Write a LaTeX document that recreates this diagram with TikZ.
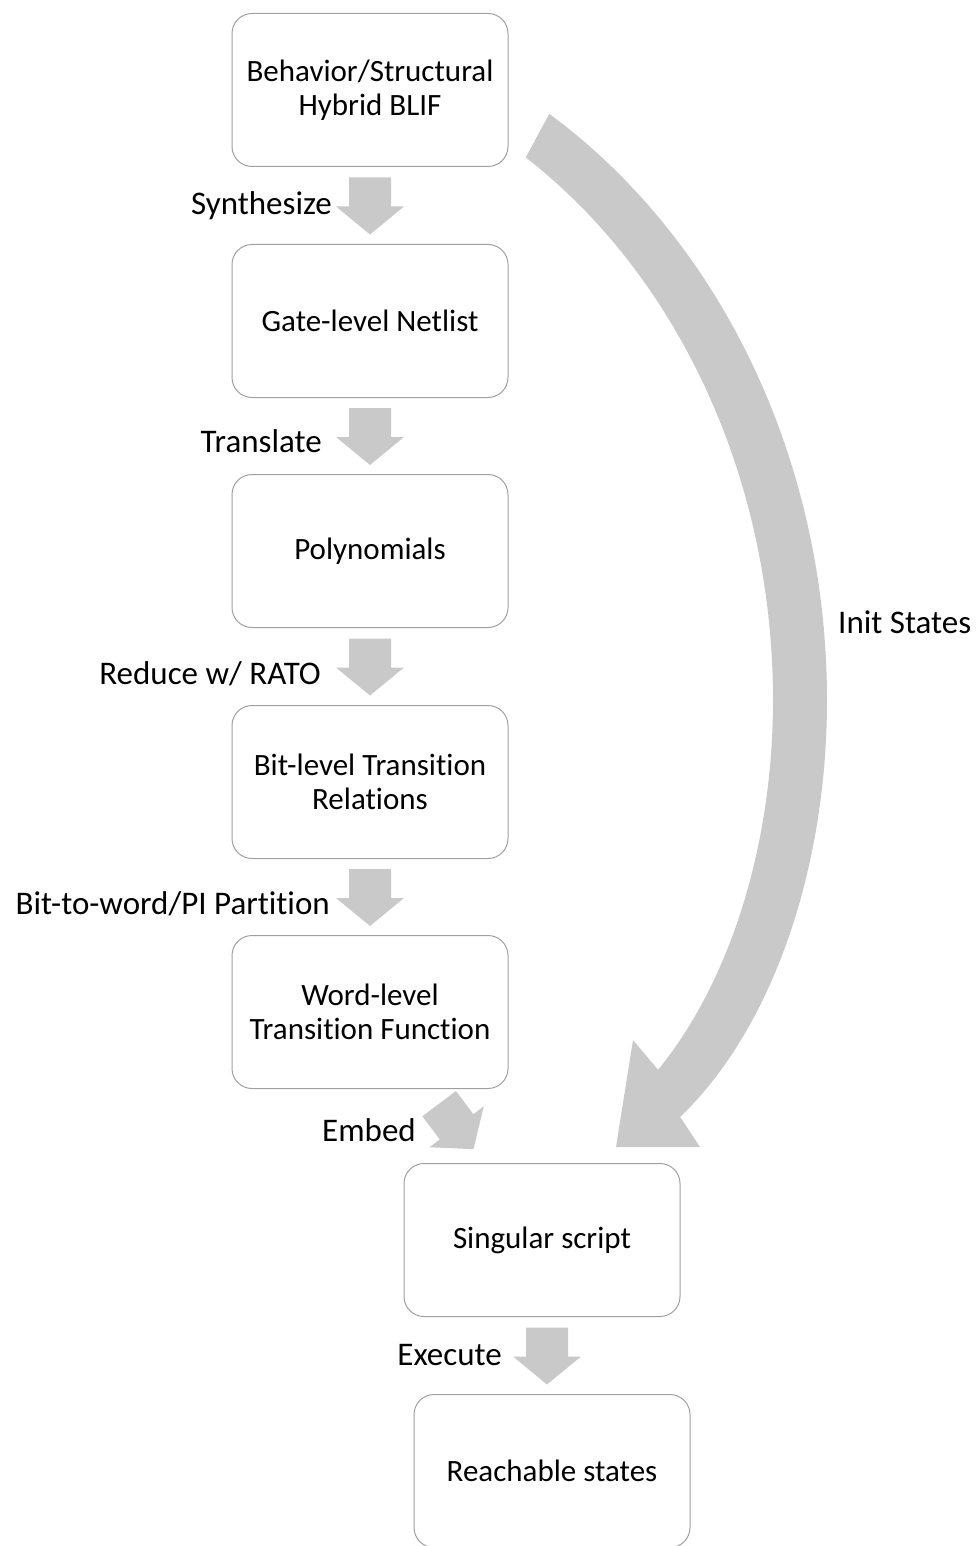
\documentclass[tikz,border=0pt]{standalone}
\usepackage{fontspec}
\setmainfont{Carlito}[Ligatures=NoCommon]
\usetikzlibrary{positioning,calc}
\definecolor{boxgray}{RGB}{160,160,160}
\definecolor{arrowgray}{RGB}{201,201,201}

\begin{document}
\begin{tikzpicture}[x=1pt,y=-1pt,
        box/.style={draw=boxgray, line width=1pt, rounded corners=20pt, minimum width=276pt, minimum height=153pt, align=center, font=\fontsize{31}{34}\selectfont},
        lbl/.style={inner sep=0pt, font=\fontsize{33}{36}\selectfont},
        downarrow/.pic={\fill[arrowgray] (-21,-28) -- (21,-28) -- (21,1) -- (34,1) -- (0,29) -- (-34,1) -- (-21,1) -- cycle;}]
        \useasboundingbox (0,0) rectangle (979,1546);

        % flow boxes
        \node[box] (hybrid) at (370,90) {Behavior/Structural\\Hybrid BLIF};
        \node[box, below=77pt of hybrid] (netlist) {Gate-level Netlist};
        \node[box, below=76pt of netlist] (poly) {Polynomials};
        \node[box, below=77pt of poly] (bitrel) {Bit-level Transition\\Relations};
        \node[box, below=76pt of bitrel] (wordfn) {Word-level\\Transition Function};
        \node[box, below=74pt of wordfn, xshift=172pt] (script) {Singular script};
        \node[box, below=77pt of script, xshift=10pt] (reach) {Reachable states};

        % block arrows between boxes
        \foreach \a/\b/\n in {hybrid/netlist/1, netlist/poly/2, poly/bitrel/3, bitrel/wordfn/4, wordfn/script/5, script/reach/6} {
            \coordinate (mid\n) at ($(\a.south)!0.5!(\b.north)$);
        }
        \foreach \n in {1,2,3,4,6} {
            \pic at (mid\n) {downarrow};
        }
        \pic[rotate=37] at (mid5) {downarrow};

        \node[lbl, anchor=east] (synth) at ([xshift=-38pt]mid1) {Synthesize};
        \node[lbl, anchor=east] (transl) at ([xshift=-48pt, yshift=-5pt]mid2) {Translate};
        \node[lbl, anchor=east] (reduce) at ([xshift=-49pt, yshift=-7pt]mid3) {Reduce w/ RATO};
        \node[lbl, anchor=east] (part) at ([xshift=-40pt, yshift=-7pt]mid4) {Bit-to-word/PI Partition};
        \node[lbl, anchor=east] (embed) at ([xshift=-40pt, yshift=-4pt]mid5) {Embed};
        \node[lbl, anchor=east] (exec) at ([xshift=-45pt]mid6) {Execute};

        % curved arrow for the init states
        \fill[arrowgray] plot[domain=57.5:0, samples=30, smooth] ({227+600*cos(\x)},{700-695*sin(\x)})
            -- plot[domain=0:59.3, samples=30, smooth] ({527+300*cos(\x)},{700+485*sin(\x)})
            -- (700,1147) -- (616,1147) -- (633,1040)
            -- plot[domain=51.9:0, samples=30, smooth] ({473+300*cos(\x)},{700+470*sin(\x)})
            -- plot[domain=0:56.6, samples=30, smooth] ({223+550*cos(\x)},{700-650*sin(\x)}) -- cycle;
        \node[lbl, anchor=west] (init) at (838,622) {Init States};
\end{tikzpicture}
\end{document}
